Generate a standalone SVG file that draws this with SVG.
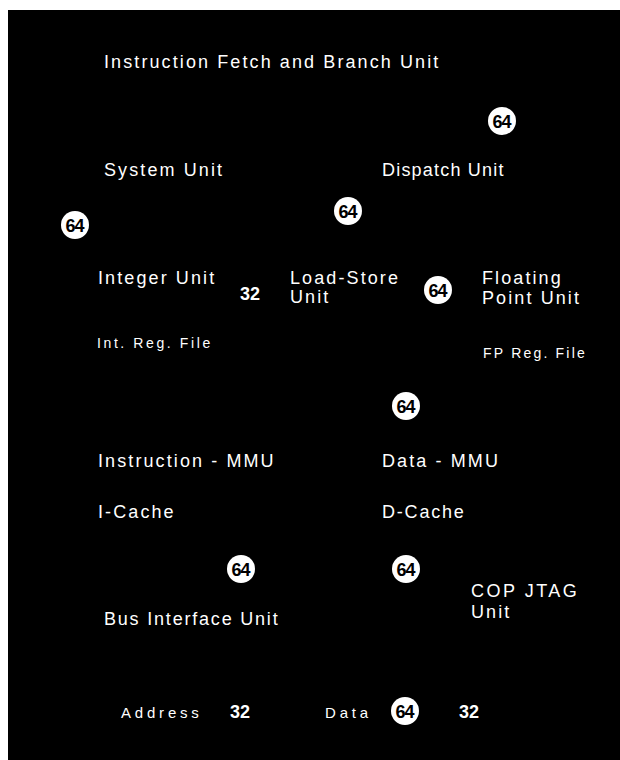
<svg xmlns="http://www.w3.org/2000/svg" width="620" height="760" viewBox="0 0 620 760">
  <style>
    .lbl { font-family: "Liberation Sans", Arial, sans-serif; font-size: 18px; fill: #fff; letter-spacing: 2.1px; }
    .sm { font-size: 14px; letter-spacing: 2.6px; }
    .bus { font-size: 15px; letter-spacing: 3.8px; }
    .num { font-family: "Liberation Sans", Arial, sans-serif; font-size: 18px; font-weight: bold; fill: #fff; }
    .badge circle { fill: #fff; }
    .badge text { font-family: "Liberation Sans", Arial, sans-serif; font-size: 18px; font-weight: bold; fill: #000; text-anchor: middle; letter-spacing: -1px; }
  </style>
  <defs>
    <g id="b64" class="badge">
      <circle r="14"/>
      <text x="-0.5" y="6.5">64</text>
    </g>
  </defs>
  <rect width="620" height="760" fill="#fff"/>
  <rect x="8" y="10" width="612" height="750" fill="#000"/>

  <g id="ifbu"><text class="lbl" x="104" y="68">Instruction Fetch and Branch Unit</text></g>
  <g id="system-unit"><text class="lbl" x="104" y="176">System Unit</text></g>
  <g id="dispatch-unit"><text class="lbl" x="382" y="176" style="letter-spacing:1.2px">Dispatch Unit</text></g>
  <g id="integer-unit">
    <text class="lbl" x="98" y="284">Integer Unit</text>
    <text class="lbl sm" x="97" y="348">Int. Reg. File</text>
  </g>
  <g id="load-store-unit">
    <text class="lbl" x="290" y="284">Load-Store</text>
    <text class="lbl" x="290" y="303">Unit</text>
  </g>
  <g id="fp-unit">
    <text class="lbl" x="482" y="284">Floating</text>
    <text class="lbl" x="482" y="304">Point Unit</text>
    <text class="lbl sm" x="483" y="358" style="letter-spacing:2.2px">FP Reg. File</text>
  </g>
  <g id="immu"><text class="lbl" x="98" y="467">Instruction - MMU</text></g>
  <g id="dmmu"><text class="lbl" x="382" y="467">Data - MMU</text></g>
  <g id="icache"><text class="lbl" x="98" y="518">I-Cache</text></g>
  <g id="dcache"><text class="lbl" x="382" y="518" style="letter-spacing:1.8px">D-Cache</text></g>
  <g id="cop-jtag">
    <text class="lbl" x="471" y="597" style="letter-spacing:2.5px">COP JTAG</text>
    <text class="lbl" x="471" y="618">Unit</text>
  </g>
  <g id="biu"><text class="lbl" x="104" y="625" style="letter-spacing:1.8px">Bus Interface Unit</text></g>
  <g id="bus">
    <text class="lbl bus" x="121" y="718">Address</text>
    <text class="lbl bus" x="325" y="718">Data</text>
  </g>

  <g id="connectors">
    <use href="#b64" x="502" y="121"/>
    <use href="#b64" x="348" y="211"/>
    <use href="#b64" x="75" y="225"/>
    <use href="#b64" x="438" y="290"/>
    <use href="#b64" x="406" y="406"/>
    <use href="#b64" x="241" y="569"/>
    <use href="#b64" x="406" y="569"/>
    <use href="#b64" x="405" y="711"/>
    <text class="num" x="240" y="300">32</text>
    <text class="num" x="230" y="718">32</text>
    <text class="num" x="459" y="718">32</text>
  </g>
</svg>
